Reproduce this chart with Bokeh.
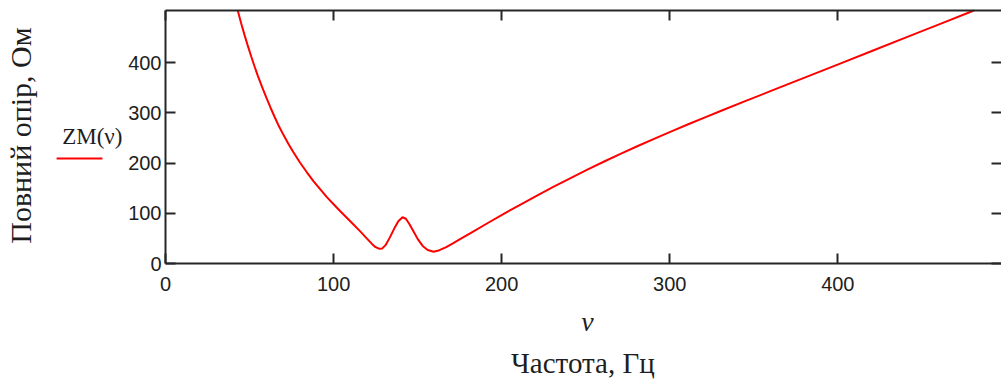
import math
from bokeh.plotting import figure
from bokeh.models import LinearAxis, FixedTicker, Label, Arrow, Range1d
from bokeh.embed import file_html
from bokeh.resources import INLINE

# ---- data ----
nu = [43.0, 45.0, 47.0, 49.0, 51.0, 53.0, 55.0, 57.5, 60.0, 62.5, 65.0, 67.5,
      70.0, 73.0, 76.0, 80.0, 84.0, 88.0, 92.0, 96.0, 100.0, 104.0, 108.0,
      112.0, 116.0, 120.0, 123.0, 125.0, 127.0, 129.0, 131.0, 133.5, 136.0,
      138.5, 141.0, 143.0, 145.0, 147.5, 150.0, 153.0, 156.0, 159.5, 163.0,
      167.0, 171.0, 176.0, 181.5, 191.5, 201.5, 211.5, 221.0, 231.0, 241.0,
      251.0, 261.0, 271.0, 281.0, 291.0, 301.0, 311.0, 321.0, 331.0, 346.0,
      361.0, 381.0, 401.0, 421.0, 441.0, 461.0, 481.0]
zm = [503.5, 478.0, 455.0, 433.0, 412.0, 392.0, 373.0, 351.0, 330.0, 310.0,
      291.0, 273.0, 257.0, 239.0, 222.0, 201.0, 182.0, 164.0, 148.0, 132.0,
      118.0, 104.0, 90.5, 77.0, 63.5, 49.0, 38.5, 32.5, 29.5, 30.0, 37.0, 52.0,
      69.0, 84.0, 92.0, 89.0, 79.0, 64.0, 49.0, 35.0, 27.0, 23.5, 26.5, 32.5,
      40.0, 49.8, 60.6, 80.1, 99.3, 117.9, 135.2, 152.9, 170.1, 186.8, 203.0,
      218.7, 233.9, 248.6, 263.0, 277.1, 290.9, 304.5, 324.5, 344.4, 370.9,
      397.4, 423.9, 450.5, 477.0, 503.5]
x_ticks = [0, 100, 200, 300, 400]
y_ticks = [0, 100, 200, 300, 400]
x_max = 497.4
y_max = 503.5

series_name = "ZM(ν)"
x_var = "ν"
x_title = "Частота, Гц"
y_title = "Повний опір, Ом"

AX = "#262626"
TXT = "#1e1e1e"

W, H = 1001, 383
# plot box in pixels: left 165, top 10, bottom 263; scale px per unit
PX_X, PX_Y = 1.6808, 0.5025
X0, Y0 = 165, 263
x_lo = -X0 / PX_X
x_hi = (W - X0) / PX_X
y_lo = (Y0 - H) / PX_Y
y_hi = Y0 / PX_Y

p = figure(width=W, height=H,
           x_range=Range1d(x_lo, x_hi), y_range=Range1d(y_lo, y_hi),
           x_axis_location=None, y_axis_location=None,
           output_backend="svg", toolbar_location=None,
           min_border=0)
p.outline_line_color = None
p.grid.visible = False
p.background_fill_color = "white"
p.border_fill_color = "white"

p.line(nu, zm, line_color="#ff0000", line_width=2)


def make_axis(ticks, loc, bounds, labels=True, line=True):
    ax = LinearAxis(fixed_location=loc, bounds=bounds,
                    ticker=FixedTicker(ticks=ticks))
    ax.major_tick_in = 10
    ax.major_tick_out = 0
    ax.minor_tick_in = 0
    ax.minor_tick_out = 0
    ax.major_tick_line_color = AX
    ax.major_tick_line_width = 2
    ax.axis_line_color = AX if line else None
    ax.axis_line_width = 2
    ax.major_label_text_font = "Liberation Sans"
    ax.major_label_text_font_size = "20px"
    ax.major_label_text_color = TXT if labels else None
    return ax


xa = make_axis(x_ticks, 0, (0, x_max))
xa.major_label_standoff = 13
p.add_layout(xa, "below")

ya = make_axis(y_ticks, 0, (0, y_max))
ya.major_label_standoff = 4
p.add_layout(ya, "left")

top = make_axis(x_ticks, y_max, (0, x_max), labels=False)
p.add_layout(top, "above")

right = make_axis(y_ticks, x_max, (0, y_max), labels=False, line=False)
p.add_layout(right, "right")

# texts around the plot box (positions in data units)
p.add_layout(Label(x=-86.2, y=254.7, text=y_title, angle=math.pi / 2,
                   text_align="center", text_baseline="alphabetic",
                   text_font="Liberation Serif", text_font_size="30px",
                   text_color=TXT))
p.add_layout(Label(x=-61.5, y=252.7, text=series_name,
                   text_align="left", text_baseline="alphabetic",
                   text_font="Liberation Serif", text_font_size="23px",
                   text_color=TXT))
p.add_layout(Arrow(x_start=-64.8, y_start=208.9,
                   x_end=-37.5, y_end=208.9, end=None,
                   line_color="#ff0000", line_width=2))
p.add_layout(Label(x=251.1, y=-115.4, text=x_var,
                   text_align="center", text_baseline="alphabetic",
                   text_font="Liberation Serif", text_font_style="italic",
                   text_font_size="28px", text_color=TXT))
p.add_layout(Label(x=248.3, y=-199.0, text=x_title,
                   text_align="center", text_baseline="alphabetic",
                   text_font="Liberation Serif", text_font_size="29px",
                   text_color=TXT))

open("out.html", "w").write(file_html(p, INLINE))
